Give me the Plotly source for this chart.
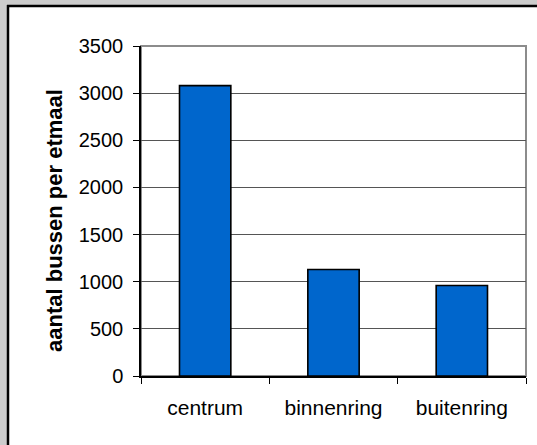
import plotly.graph_objects as go

# Buses per day by zone
categories = ["centrum", "binnenring", "buitenring"]
buses = [3080, 1130, 960]
y_ticks = [0, 500, 1000, 1500, 2000, 2500, 3000, 3500]

W, H = 537, 445
ML, MR, MT, MB = 141, 11, 46, 69
PW, PH = W - ML - MR, H - MT - MB


def px(x):
    return (x - ML) / PW


def py(y):
    return (H - MB - y) / PH


FONT = "Arial, Liberation Sans, sans-serif"

fig = go.Figure(
    go.Bar(
        x=categories,
        y=buses,
        marker=dict(color="#0066cc", line=dict(color="#000000", width=1.6)),
    )
)

shapes = [
    # plot area border (grey)
    dict(type="rect", xref="paper", yref="paper", x0=0, x1=1, y0=0, y1=1,
         line=dict(color="#8c8c8c", width=2), layer="below"),
    # grey surround at top and left of the chart frame
    dict(type="rect", xref="paper", yref="paper", x0=px(0), x1=px(W + 5), y0=py(0), y1=py(5),
         fillcolor="#cccccc", line=dict(width=0)),
    dict(type="rect", xref="paper", yref="paper", x0=px(0), x1=px(7), y0=py(0), y1=py(H + 5),
         fillcolor="#cccccc", line=dict(width=0)),
    # black chart frame edges
    dict(type="line", xref="paper", yref="paper", x0=px(7), x1=px(W + 5), y0=py(6), y1=py(6),
         line=dict(color="#000000", width=2.5)),
    dict(type="line", xref="paper", yref="paper", x0=px(8), x1=px(8), y0=py(5), y1=py(H + 5),
         line=dict(color="#000000", width=2.5)),
]

fig.update_layout(
    width=W,
    height=H,
    margin=dict(l=ML, r=MR, t=MT, b=MB, pad=0),
    paper_bgcolor="#ffffff",
    plot_bgcolor="#ffffff",
    bargap=0.6,
    showlegend=False,
    font=dict(family=FONT, size=20, color="#000000"),
    shapes=shapes,
    annotations=[
        dict(text="<b>aantal bussen per etmaal</b>", textangle=-90,
             xref="paper", yref="paper", x=px(54), y=py(221),
             xanchor="center", yanchor="middle", showarrow=False,
             font=dict(family=FONT, size=22, color="#000000"))
    ],
    xaxis=dict(
        type="category",
        showline=True, linecolor="#000000", linewidth=1.5,
        ticks="outside", tickson="boundaries", ticklen=6, tickcolor="#000000",
        ticklabelstandoff=12,
        tickfont=dict(size=21),
        showgrid=False, zeroline=False,
    ),
    yaxis=dict(
        range=[0, 3500],
        tickvals=y_ticks,
        showline=True, linecolor="#000000", linewidth=1.5,
        ticks="outside", ticklen=6, tickcolor="#000000",
        ticklabelstandoff=6,
        tickfont=dict(size=20),
        showgrid=True, gridcolor="#555555", gridwidth=1,
        zeroline=False,
    ),
)

fig.write_html("out.html")
